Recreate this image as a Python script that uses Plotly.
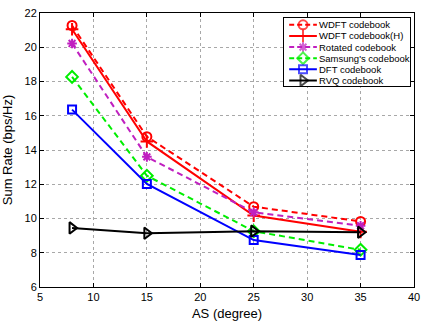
import plotly.graph_objects as go

as_deg = [8, 15, 25, 35]
wdft = [21.27, 14.78, 10.69, 9.83]
wdft_h = [21.05, 14.5, 10.17, 9.22]
rotated = [20.22, 13.6, 10.36, 9.58]
samsung = [18.27, 12.5, 9.26, 8.17]
dft = [16.36, 12.02, 8.74, 7.87]
rvq = [9.45, 9.14, 9.26, 9.2]

names = ["WDFT codebook", "WDFT codebook(H)", "Rotated codebook",
         "Samsung's codebook", "DFT codebook", "RVQ codebook"]
series = [wdft, wdft_h, rotated, samsung, dft, rvq]

styles = [
    ("#ff0000", "dash", "circle-open", 9),
    ("#ff0000", "solid", "cross-thin-open", 9),
    ("#c020c0", "dash", "asterisk-open", 8),
    ("#00ee00", "dash", "diamond-open", 9),
    ("#0000ff", "solid", "square-open", 8),
    ("#000000", "solid", "triangle-right-open", 10),
]

fig = go.Figure()
for name, ys, (col, dash, sym, sz) in zip(names, series, styles):
    fig.add_trace(go.Scatter(
        x=as_deg, y=ys, name=name, mode="lines+markers", showlegend=False,
        line=dict(color=col, width=2, dash="solid" if dash == "solid" else "6px,4px"),
        marker=dict(symbol=sym, size=sz, color=col, line=dict(color=col, width=2)),
    ))

# custom compact legend (rows on a hidden helper axis)
for i, (name, (col, dash, sym, sz)) in enumerate(zip(names, styles)):
    fig.add_trace(go.Scatter(
        x=[5, 19, 33], y=[i, i, i], xaxis="x2", yaxis="y2", mode="lines+markers",
        showlegend=False, hoverinfo="skip",
        line=dict(color=col, width=2, dash="solid" if dash == "solid" else "5px,3px"),
        marker=dict(symbol=sym, size=[0, sz, 0], color=col, line=dict(color=col, width=2)),
    ))
    fig.add_annotation(x=35, y=i, xref="x2", yref="y2", text=name, showarrow=False,
                       xanchor="left", yanchor="middle", xshift=-2,
                       font=dict(size=9.5, color="#000000"))

axis_common = dict(
    showgrid=True, gridcolor="#a8a8a8", griddash="dot", gridwidth=1,
    showline=True, linecolor="#000000", linewidth=1, mirror="ticks",
    ticks="inside", ticklen=4, tickcolor="#000000",
    zeroline=False, tickfont=dict(size=11, color="#000000"),
)
legend_axis = dict(showline=True, linecolor="#000000", linewidth=1, mirror=True,
                   showgrid=False, zeroline=False, showticklabels=False, ticks="",
                   fixedrange=True)

fig.update_layout(
    xaxis=dict(range=[5, 40], dtick=5, title=dict(text="AS (degree)", font=dict(size=13, color="#000000"), standoff=6), **axis_common),
    yaxis=dict(range=[6, 22], dtick=2, title=dict(text="Sum Rate (bps/Hz)", font=dict(size=13, color="#000000"), standoff=8), **axis_common),
    xaxis2=dict(domain=[0.653, 0.989], range=[0, 127], anchor="y2", **legend_axis),
    yaxis2=dict(domain=[0.732, 0.982], range=[5.53, -0.614], anchor="x2", **legend_axis),
    width=427, height=326,
    margin=dict(l=40, r=9, t=7, b=39),
    paper_bgcolor="white", plot_bgcolor="white",
    font=dict(family="Liberation Sans, Arial, sans-serif", color="#000000"),
    showlegend=False,
)

fig.write_html("out.html", config={"displayModeBar": False},
               post_script="document.body.style.margin='0';")
